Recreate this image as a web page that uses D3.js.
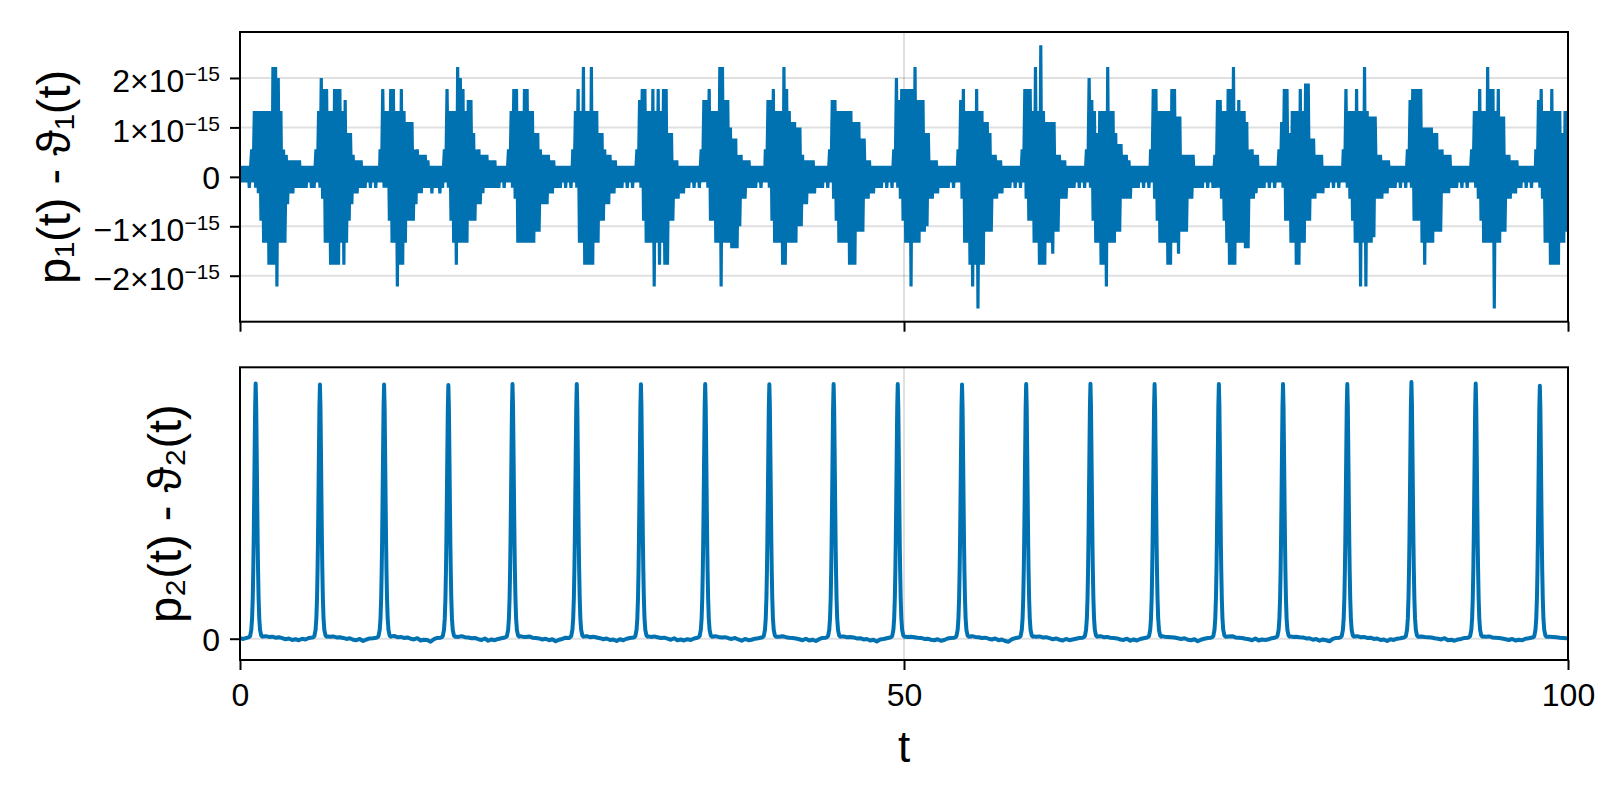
<!DOCTYPE html>
<html><head><meta charset="utf-8">
<script src="https://cdn.jsdelivr.net/npm/d3@7"></script>
<style>
body{margin:0;background:#fff}
svg{display:block}
text{font-family:"Liberation Sans",Arial,Helvetica,sans-serif;fill:#000}
</style>
</head><body>
<svg id="chart" width="1600" height="800"></svg>
<script>
// ---------------- data ----------------
const tTicks = [0, 50, 100];
const topTicks = [-2e-15, -1e-15, 0, 1e-15, 2e-15];
const topTickMantissa = ["\u22122", "\u22121", "0", "1", "2"];
const topTickExponent = "\u221215";
const bottomTicks = [0];
const xLabel = "t";
const topYLabel = "p\u2081(t) - \u03d1\u2081(t)";
const bottomYLabel = "p\u2082(t) - \u03d1\u2082(t)";

// top series: values in units of 1.11e-16, sampled every 0.1 in t, one row per cycle
const topUnit = 1.11e-16;
const topStep = 0.1;
const topRowStart = [0, 0.88, 5.72, 10.55, 15.39, 20.22, 25.06, 29.89, 34.73, 39.56, 44.40, 49.23, 54.07, 58.90, 63.74, 68.57, 73.41, 78.24, 83.08, 87.91, 92.75, 97.58];
const topRows = [
 [2,-1,2,-1,2,-1,2,-2,2],
 [5,-1,12,-2,12,-3,12,-8,12,-12,12,-12,12,-16,12,-16,20,-16,20,-20,18,-12,12,-12,5,-12,4,-5,3,-3,3,-3,3,-2,3,-2,3,-2,2,-2,2,-2,2,-1,2,-2,2,-2],
 [5,-1,12,-2,18,-4,16,-12,16,-12,12,-16,12,-16,16,-16,16,-16,16,-12,12,-16,14,-12,8,-8,8,-5,4,-3,3,-3,3,-2,3,-2,2,-2,2,-1,2,-2,2,-1,2,-2,2,-1,2],
 [5,-1,16,-2,12,-2,12,-8,16,-12,16,-12,12,-20,12,-16,16,-16,12,-12,10,-8,10,-8,10,-8,5,-5,5,-3,4,-3,4,-2,4,-2,3,-2,2,-3,2,-2,2,-2,2,-3,2,-2],
 [5,-1,16,-2,12,-8,12,-12,12,-16,20,-12,18,-12,16,-12,12,-12,14,-8,14,-8,8,-8,5,-5,5,-5,4,-3,4,-2,4,-2,3,-2,3,-2,3,-2,2,-2,2,-1,2,-2,2,-1],
 [5,-1,12,-2,16,-4,16,-12,12,-12,12,-12,16,-12,16,-12,12,-12,12,-12,8,-10,8,-10,5,-5,4,-5,4,-5,4,-3,3,-3,3,-2,2,-2,2,-2,2,-1,2,-2,2,-1,2,-2,2],
 [5,-1,12,-2,16,-12,12,-12,20,-16,12,-16,12,-16,20,-16,12,-12,12,-12,8,-8,8,-8,5,-5,4,-5,4,-3,3,-3,3,-2,2,-2,2,-2,2,-1,2,-2,2,-1,2,-2,2,-1],
 [5,-1,14,-2,16,-8,16,-12,12,-12,12,-12,16,-20,12,-12,16,-16,12,-12,16,-16,16,-16,8,-8,8,-8,3,-4,3,-4,2,-3,2,-3,2,-2,2,-2,2,-1,2,-2,2,-1,2,-2],
 [5,-1,14,-1,14,-2,16,-8,12,-8,12,-12,12,-12,20,-20,20,-12,14,-12,14,-12,9,-13,7,-13,7,-13,4,-9,4,-4,3,-4,3,-2,3,-2,2,-2,2,-2,2,-1,2,-2,2,-1,2],
 [5,-1,14,-2,14,-8,16,-12,12,-12,12,-12,12,-16,20,-16,16,-12,12,-12,10,-12,10,-12,9,-9,9,-9,4,-5,3,-5,3,-3,3,-3,3,-3,2,-2,2,-2,2,-2,2,-1,2,-2],
 [5,-1,14,-4,14,-8,12,-12,12,-12,12,-12,12,-12,12,-16,12,-16,10,-16,10,-10,10,-10,7,-10,7,-4,3,-4,3,-3,2,-3,2,-2,2,-2,2,-2,2,-1,2,-2,2,-1,2,-2],
 [5,-1,18,-2,14,-4,16,-8,16,-12,16,-12,16,-20,16,-12,20,-12,14,-12,14,-10,14,-10,8,-9,8,-4,3,-4,3,-3,3,-3,2,-2,2,-2,2,-2,2,-2,2,-1,2,-2,2,-1,2],
 [5,-1,14,-4,16,-12,12,-12,12,-16,12,-20,12,-16,16,-24,12,-16,12,-16,10,-10,10,-10,8,-10,4,-4,4,-4,3,-3,3,-3,2,-2,2,-2,2,-2,2,-1,2,-2,2,-1,2,-2],
 [5,-1,16,-4,16,-8,16,-8,12,-12,20,-12,12,-16,24,-16,12,-16,10,-12,10,-12,10,-14,10,-10,4,-10,4,-4,3,-4,3,-4,2,-2,2,-2,2,-2,2,-1,2,-2,2,-1,2,-2],
 [5,-1,18,-2,14,-8,12,-12,8,-12,12,-16,12,-16,12,-20,20,-12,12,-12,12,-12,8,-10,6,-10,6,-4,4,-4,4,-4,3,-4,2,-2,2,-2,2,-2,2,-1,2,-2,2,-1,2,-2,2],
 [5,-1,16,-4,16,-8,12,-12,12,-12,12,-12,12,-16,12,-16,16,-12,16,-12,11,-14,11,-10,4,-10,4,-10,4,-4,4,-4,4,-2,2,-2,2,-2,2,-2,2,-1,2,-2,2,-1,2,-2],
 [4,-2,14,-2,14,-4,12,-8,12,-12,16,-16,16,-16,20,-16,12,-12,14,-12,12,-12,12,-13,10,-13,5,-4,5,-4,4,-3,4,-2,2,-2,2,-2,2,-1,2,-2,2,-1,2,-2,2,-1],
 [5,-1,10,-2,16,-8,16,-8,8,-12,12,-12,12,-16,12,-16,16,-12,12,-12,17,-8,17,-8,7,-4,7,-4,4,-3,4,-3,4,-3,2,-2,2,-2,2,-1,2,-2,2,-1,2,-2,2,-1,2],
 [5,-1,16,-2,12,-4,12,-8,12,-12,16,-12,12,-20,12,-12,20,-20,12,-12,11,-12,11,-11,11,-4,4,-4,4,-4,3,-3,3,-3,3,-2,2,-2,2,-2,2,-1,2,-2,2,-1,2,-2],
 [5,-1,14,-2,16,-8,16,-8,16,-8,16,-12,9,-16,9,-12,9,-12,9,-12,8,-10,8,-10,5,-10,5,-3,4,-3,4,-3,4,-2,2,-2,2,-2,2,-1,2,-2,2,-1,2,-2,2,-1],
 [5,-1,12,-2,12,-4,16,-8,12,-12,12,-12,20,-12,16,-12,16,-24,12,-12,16,-12,11,-10,11,-10,4,-4,4,-4,3,-3,3,-3,3,-2,2,-2,2,-1,2,-2,2,-1,2,-2,2,-1,2],
 [5,-1,14,-2,16,-4,12,-12,12,-12,12,-16,16,-16,12,-16,12,-16,12,-12,8,-12,12,-10,12]
];

// bottom series
const peakTimes = [1.18, 6.02, 10.85, 15.69, 20.52, 25.36, 30.19, 35.03, 39.86, 44.70, 49.53, 54.37, 59.20, 64.04, 68.87, 73.71, 78.54, 83.38, 88.21, 93.05, 97.88];
const peakHeights = [1.002, 0.998, 0.998, 0.996, 1.0, 1.0, 0.999, 1.0, 0.999, 1.0, 1.0, 0.998, 1.0, 1.001, 1.0, 1.0, 1.0, 1.0, 1.008, 1.002, 0.993];
const peakShapeOffsets = [-0.5,-0.42,-0.33,-0.27,-0.22,-0.18,-0.15,-0.12,-0.08,-0.04,0,0.04,0.08,0.12,0.15,0.18,0.22,0.27,0.33,0.42,0.5];
const peakShapeValues  = [0.006,0.01,0.035,0.08,0.16,0.27,0.38,0.52,0.72,0.91,1.0,0.91,0.72,0.52,0.38,0.27,0.16,0.08,0.035,0.012,0.008];
// baseline between peaks: units of 0.001, every 0.25 in t, starting 0.5 after each peak (first row starts at t = 0)
const baseUnit = 0.001;
const baseStep = 0.25;
const baseGap = 0.5;
const baseRows = [
 [2,-1,3],
 [9,10,7,8,4,6,2,-2,1,-5,-2,-6,0,-3,3,5],
 [10,8,9,5,6,3,-1,2,-4,-6,-1,-9,-3,1,2,4],
 [8,11,6,7,3,5,0,-3,2,-7,-4,-5,-12,-2,3,4],
 [9,7,10,6,5,2,3,-2,-5,1,-8,-3,-6,-1,2,5],
 [11,8,7,9,4,3,1,-3,0,-6,-2,-10,-4,-1,4,3],
 [9,10,6,8,5,2,-2,1,-5,-3,-9,-2,-6,0,3,5],
 [10,7,9,6,3,4,0,-4,2,-6,-3,-7,-2,-5,1,4],
 [8,10,7,5,6,2,-1,3,-3,-8,-1,-6,-4,0,2,5],
 [9,8,10,6,4,3,1,-2,-6,0,-7,-4,-9,-2,3,4],
 [10,9,6,7,5,1,2,-3,-1,-7,-4,-11,-3,-1,2,5],
 [9,7,8,6,4,3,-1,0,-4,-6,-2,-8,-5,1,3,4],
 [8,10,7,6,3,4,0,-3,1,-6,-3,-9,-12,-2,2,5],
 [10,8,9,5,6,2,-2,1,-4,-7,-1,-6,-3,0,3,4],
 [9,10,6,7,4,3,1,-3,-5,0,-8,-3,-7,-1,2,5],
 [11,8,7,6,5,2,-1,2,-4,-6,-2,-10,-4,0,3,4],
 [8,9,10,5,4,3,0,-2,-6,1,-7,-3,-5,-2,2,5],
 [10,7,8,6,5,1,2,-4,-1,-8,-3,-6,-10,-1,3,4],
 [9,10,6,7,3,4,-1,1,-5,-3,-9,-2,-5,0,2,5],
 [8,9,7,6,5,2,0,-3,2,-6,-4,-8,-3,-1,3,4],
 [10,8,9,5,4,3,1,-2,-5,-1,-7,-4,-6,0,2,5],
 [9,8,7,6,4,3,2,1]
];

// ---------------- drawing ----------------
const svg = d3.select("#chart");
const L = 240, R = 1568;
const topBox = {top: 32, bottom: 321.7};
const botBox = {top: 367.3, bottom: 660};
const lineColor = "rgb(0,114,178)";
const gridColor = "rgba(0,0,0,0.12)";

const x = d3.scaleLinear().domain([0, 100]).range([L, R]);
const yTop = d3.scaleLinear().domain([-2.93e-15, 2.93e-15]).range([topBox.bottom, topBox.top]);
const yBot = d3.scaleLinear().domain([-0.0836, 1.0656]).range([botBox.bottom, botBox.top]);

const topPts = [];
topRows.forEach((row, k) => row.forEach((v, j) => topPts.push([topRowStart[k] + j * topStep, v * topUnit])));

const botPts = [];
baseRows.forEach((row, k) => {
  const start = k === 0 ? 0 : peakTimes[k - 1] + baseGap;
  row.forEach((v, j) => botPts.push([start + j * baseStep, v * baseUnit]));
  if (k < peakTimes.length) {
    peakShapeOffsets.forEach((o, i) => botPts.push([peakTimes[k] + o, peakShapeValues[i] * peakHeights[k]]));
  }
});

const defs = svg.append("defs");
defs.append("clipPath").attr("id", "clipTop").append("rect")
  .attr("x", L).attr("y", topBox.top).attr("width", R - L).attr("height", topBox.bottom - topBox.top);
defs.append("clipPath").attr("id", "clipBot").append("rect")
  .attr("x", L).attr("y", botBox.top).attr("width", R - L).attr("height", botBox.bottom - botBox.top);

function panel(box, yScale, yTicks, clipId, pts, lw, join) {
  const g = svg.append("g");
  g.append("g").selectAll("line").data(yTicks).join("line")
    .attr("x1", L).attr("x2", R).attr("y1", d => yScale(d)).attr("y2", d => yScale(d))
    .attr("stroke", gridColor).attr("stroke-width", 2);
  g.append("g").selectAll("line").data(tTicks).join("line")
    .attr("y1", box.top).attr("y2", box.bottom).attr("x1", d => x(d)).attr("x2", d => x(d))
    .attr("stroke", gridColor).attr("stroke-width", 2);
  const line = d3.line().x(d => x(d[0])).y(d => yScale(d[1]));
  g.append("path").attr("clip-path", `url(#${clipId})`)
    .attr("d", line(pts)).attr("fill", "none").attr("stroke", lineColor)
    .attr("stroke-width", lw).attr("stroke-linejoin", join);
  g.append("rect").attr("x", L).attr("y", box.top).attr("width", R - L).attr("height", box.bottom - box.top)
    .attr("fill", "none").attr("stroke", "#000").attr("stroke-width", 2);
  return g;
}

panel(topBox, yTop, topTicks, "clipTop", topPts, 3.2, "bevel");
panel(botBox, yBot, bottomTicks, "clipBot", botPts, 4, "round");

function styleAxis(g) {
  g.select(".domain").remove();
  g.selectAll(".tick line").attr("stroke", "#000").attr("stroke-width", 2);
  g.selectAll(".tick text").attr("font-size", 32).attr("font-family", '"Liberation Sans",Arial,sans-serif').attr("fill", "#000");
}

const axTopX = svg.append("g").attr("transform", `translate(0,${topBox.bottom})`)
  .call(d3.axisBottom(x).tickValues(tTicks).tickSize(10).tickFormat(""));
styleAxis(axTopX);

const axTopY = svg.append("g").attr("transform", `translate(${L},0)`)
  .call(d3.axisLeft(yTop).tickValues(topTicks).tickSize(10).tickPadding(9).tickFormat(""));
styleAxis(axTopY);
axTopY.selectAll(".tick text").each(function(d, i) {
  const t = d3.select(this).attr("x", -20).attr("dy", null).attr("text-anchor", "end");
  if (d === 0) {
    t.attr("y", 11.5).text("0");
  } else {
    t.attr("y", 14);
    t.append("tspan").text(topTickMantissa[i] + "\u00d710");
    t.append("tspan").attr("font-size", 21).attr("dy", -11).text(topTickExponent);
  }
});

const axBotX = svg.append("g").attr("transform", `translate(0,${botBox.bottom})`)
  .call(d3.axisBottom(x).tickValues(tTicks).tickSize(10).tickFormat(d3.format("d")));
styleAxis(axBotX);
axBotX.selectAll(".tick text").attr("dy", null).attr("y", 46);

const axBotY = svg.append("g").attr("transform", `translate(${L},0)`)
  .call(d3.axisLeft(yBot).tickValues(bottomTicks).tickSize(10).tickFormat(d3.format("d")));
styleAxis(axBotY);
axBotY.selectAll(".tick text").attr("x", -20).attr("dy", null).attr("y", 11.5);

svg.append("text").attr("x", x(50)).attr("y", 762).attr("text-anchor", "middle")
  .attr("font-size", 44).text(xLabel);
svg.append("text").attr("transform", `translate(70,${(topBox.top + topBox.bottom) / 2}) rotate(-90)`)
  .attr("text-anchor", "middle").attr("font-size", 47).text(topYLabel);
svg.append("text").attr("transform", `translate(181,${(botBox.top + botBox.bottom) / 2}) rotate(-90)`)
  .attr("text-anchor", "middle").attr("font-size", 47).text(bottomYLabel);
</script>
</body></html>
